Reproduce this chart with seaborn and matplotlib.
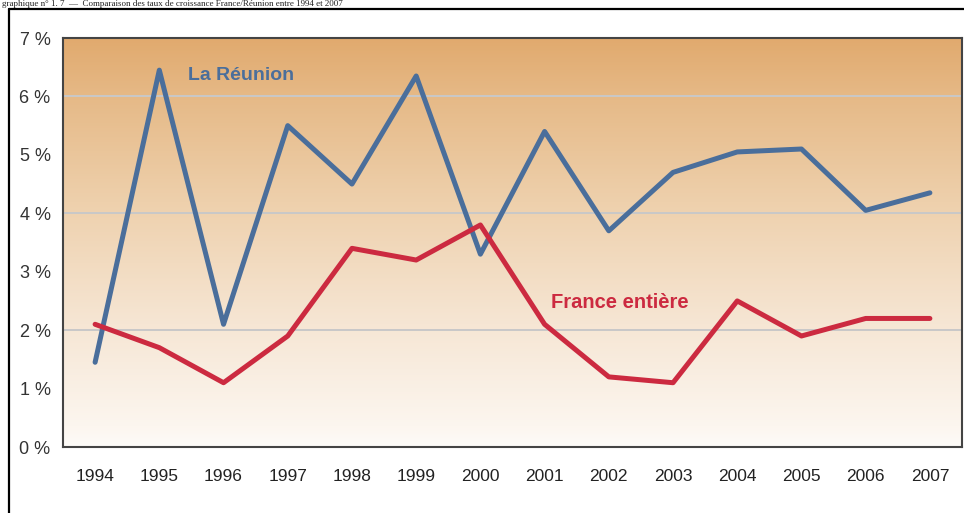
import numpy as np
import pandas as pd
import seaborn as sns
import matplotlib.pyplot as plt
from matplotlib.lines import Line2D
from matplotlib.colors import LinearSegmentedColormap
from matplotlib.ticker import MultipleLocator, FixedLocator, FuncFormatter

annees = [1994, 1995, 1996, 1997, 1998, 1999, 2000, 2001, 2002, 2003, 2004, 2005, 2006, 2007]
reunion = [1.45, 6.45, 2.1, 5.5, 4.5, 6.35, 3.3, 5.4, 3.7, 4.7, 5.05, 5.1, 4.05, 4.35]
france = [2.1, 1.7, 1.1, 1.9, 3.4, 3.2, 3.8, 2.1, 1.2, 1.1, 2.5, 1.9, 2.2, 2.2]
series = ["La Réunion", "France entière"]
titre = "graphique n° 1. 7  —  Comparaison des taux de croissance France/Réunion entre 1994 et 2007"

pos = list(range(len(annees)))
df = pd.DataFrame({
    "pos": pos * 2,
    "taux": reunion + france,
    "serie": [series[0]] * len(annees) + [series[1]] * len(annees),
})

sns.set_style("white")
plt.rcParams["font.family"] = ["Liberation Sans Narrow", "Liberation Sans", "DejaVu Sans"]

W, H = 964, 513
fig = plt.figure(figsize=(W / 100, H / 100), dpi=100)
ax = fig.add_axes([63 / W, 1 - 447 / H, (962 - 63) / W, (447 - 38) / H])

# fond en dégradé orange -> blanc
cmap = LinearSegmentedColormap.from_list("fond", [
    (0.0, (253/255, 251/255, 248/255)),
    (0.05, (252/255, 246/255, 239/255)),
    (0.3, (246/255, 230/255, 212/255)),
    (0.6, (238/255, 208/255, 172/255)),
    (0.85, (230/255, 186/255, 136/255)),
    (1.0, (225/255, 170/255, 110/255)),
])
grad = np.linspace(1, 0, 256).reshape(-1, 1)
ax.imshow(grad, cmap=cmap, aspect="auto", extent=[-0.5, len(annees) - 0.5, 0, 7], zorder=0)

for g in [2, 4, 6]:
    ax.axhline(g, color="#c8c8c8", lw=1.4, zorder=1)

palette = {series[0]: "#4a6e9b", series[1]: "#cc2a40"}
sns.lineplot(data=df, x="pos", y="taux", hue="serie", palette=palette,
             lw=3.6, legend=False, ax=ax, zorder=3)

ax.set_xlim(-0.5, len(annees) - 0.5)
ax.set_ylim(0, 7)
ax.set_xlabel("")
ax.set_ylabel("")

ax.xaxis.set_major_locator(FixedLocator(pos))
ax.set_xticklabels([str(a) for a in annees], fontsize=12.5, color="#222222")
ax.xaxis.set_minor_locator(FixedLocator([p + 0.5 for p in pos[:-1]]))
ax.tick_params(axis="x", which="major", length=0, pad=16)
ax.tick_params(axis="x", which="minor", direction="inout", length=8, width=1.3, color="#333333")

ax.yaxis.set_major_locator(MultipleLocator(1))
ax.yaxis.set_minor_locator(MultipleLocator(0.5))
ax.yaxis.set_major_formatter(FuncFormatter(lambda v, p: f"{int(v)} %"))
ax.tick_params(axis="y", which="both", direction="in", length=6, width=1.3, color="#333333")
ax.tick_params(axis="y", which="major", labelsize=13, labelcolor="#333333", pad=9)

for s in ax.spines.values():
    s.set_color("#444444")
    s.set_linewidth(1.5)
    s.set_zorder(4)

ax.text(1.45, 6.35, series[0], color=palette[series[0]], fontsize=14,
        fontweight="bold", va="center", ha="left", zorder=5)
ax.text(7.1, 2.48, series[1], color=palette[series[1]], fontsize=14.5,
        fontweight="bold", va="center", ha="left", zorder=5)

# cadre extérieur et titre en haut
fig.add_artist(Line2D([9 / W, 9 / W], [0, 1 - 9 / H], color="black", lw=1.6))
fig.add_artist(Line2D([9 / W, 1], [1 - 9 / H, 1 - 9 / H], color="black", lw=1.6))
fig.text(2 / W, 1 - 6.5 / H, titre, family=["Liberation Serif", "DejaVu Serif"],
         fontsize=6.5, va="baseline", ha="left", color="#222222")

fig.savefig("out.png", dpi=100)
